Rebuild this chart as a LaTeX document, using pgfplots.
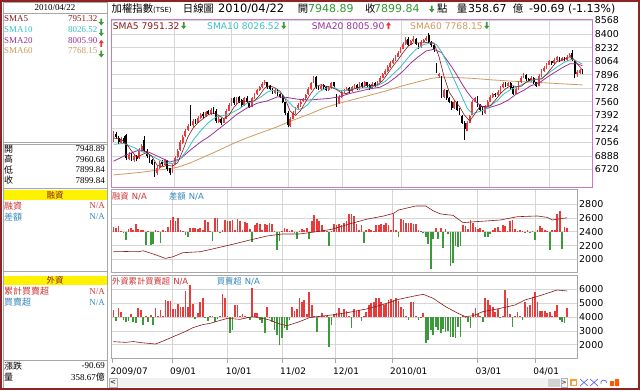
\documentclass[border=0pt]{standalone}
\usepackage{pgfplots}
\usepackage{pgfplotstable}
\pgfplotsset{compat=1.18}
\usepackage{fontspec}
\setmainfont{DejaVu Sans}
\newfontfamily\cjk{Noto Sans CJK TC}
\newfontfamily\ser{Liberation Serif}
\definecolor{cA}{HTML}{8B1A1A}
\definecolor{cB}{HTML}{3CC0C8}
\definecolor{cC}{HTML}{993399}
\definecolor{cD}{HTML}{D09A60}
\definecolor{upr}{HTML}{E83C3C}
\definecolor{dng}{HTML}{3A9A3A}
\definecolor{gridc}{HTML}{D6D6D6}
\definecolor{pinkb}{HTML}{CC77CC}
\definecolor{wframe}{HTML}{8E2323}
\definecolor{lblr}{HTML}{CC3333}
\definecolor{lblb}{HTML}{3388BB}
\definecolor{ttlg}{HTML}{339933}
\definecolor{panelgray}{HTML}{A8A8A8}
\newcommand{\fs}[1]{\fontsize{#1}{#1}\selectfont}
\newcommand{\dn}{\tikz[baseline=0bp,x=1bp,y=1bp]\fill[dng] (-0.9,7) -- (0.9,7) -- (0.9,3.3) -- (2.6,3.3) -- (0,0) -- (-2.6,3.3) -- (-0.9,3.3) -- cycle;}
\newcommand{\upa}{\tikz[baseline=0bp,x=1bp,y=1bp]\fill[upr] (-0.9,0) -- (0.9,0) -- (0.9,3.7) -- (2.6,3.7) -- (0,7) -- (-2.6,3.7) -- (-0.9,3.7) -- cycle;}
\pgfplotsset{
  base/.style={scale only axis, anchor=south west, xmin=-1, xmax=187,
    axis line style={panelgray, line width=0.6bp},
    xtick={23.6,45.8,68,89.4,112.4,146.8,170.1}, xticklabels={},
    major tick length=0pt,
    xmajorgrids, ymajorgrids, grid style={gridc, line width=0.5bp},
    yticklabel pos=right,
    yticklabel style={anchor=west, inner sep=0pt, xshift=2bp, font=\fs{9.5}, text=black},
  },
}
\begin{document}
\pgfplotstableread{
i O H L C
0 7080 7190 7060 7150
1 7160 7180 7100 7120
2 7110 7130 7040 7060
3 7050 7120 7040 7100
4 7110 7130 7030 7050
5 7140 7160 6840 6860
6 6850 6930 6830 6900
7 6910 6920 6820 6840
8 6840 6900 6810 6880
9 6890 6900 6820 6850
10 6860 6980 6850 6960
11 6950 7030 6930 7010
12 7080 7130 6930 6950
13 6950 6970 6860 6880
14 6870 6900 6800 6820
15 6830 6850 6770 6790
16 6800 6810 6630 6660
17 6670 6760 6650 6740
18 6730 6820 6720 6800
19 6810 6830 6760 6780
20 6770 6850 6760 6830
21 6820 6830 6700 6720
22 6730 6740 6650 6680
23 6690 6800 6680 6780
24 6790 6880 6780 6860
25 6870 6970 6860 6950
26 6960 7080 6950 7060
27 7050 7140 7040 7120
28 7130 7220 7120 7200
29 7210 7280 7190 7260
30 7500 7520 7260 7280
31 7270 7340 7250 7320
32 7330 7350 7280 7300
33 7300 7380 7290 7360
34 7360 7420 7350 7400
35 7410 7430 7360 7380
36 7380 7450 7370 7430
37 7440 7460 7390 7410
38 7410 7480 7400 7460
39 7470 7490 7410 7430
40 7450 7470 7300 7320
41 7310 7370 7300 7350
42 7350 7360 7270 7300
43 7300 7360 7290 7340
44 7350 7470 7340 7450
45 7450 7540 7440 7520
46 7520 7600 7510 7580
47 7600 7620 7520 7540
48 7540 7620 7530 7600
49 7620 7630 7540 7560
50 7580 7590 7500 7520
51 7520 7620 7510 7600
52 7610 7630 7540 7560
53 7560 7570 7480 7500
54 7500 7620 7490 7600
55 7600 7670 7590 7650
56 7650 7720 7640 7700
57 7700 7760 7690 7740
58 7740 7800 7730 7780
59 7790 7830 7770 7800
60 7800 7810 7720 7740
61 7750 7770 7700 7720
62 7720 7730 7660 7680
63 7670 7720 7660 7700
64 7710 7720 7630 7650
65 7650 7670 7600 7620
66 7620 7640 7540 7560
67 7550 7560 7400 7420
68 7420 7440 7240 7270
69 7260 7370 7250 7350
70 7350 7440 7340 7420
71 7420 7490 7410 7470
72 7480 7540 7470 7520
73 7530 7580 7500 7560
74 7570 7610 7550 7590
75 7600 7660 7580 7640
76 7650 7740 7640 7720
77 7720 7810 7710 7790
78 7800 7880 7790 7860
79 7870 7885 7720 7740
80 7740 7760 7700 7720
81 7720 7780 7710 7760
82 7770 7780 7720 7740
83 7740 7750 7690 7700
84 7700 7750 7690 7730
85 7730 7810 7720 7790
86 7800 7810 7740 7760
87 7650 7660 7500 7540
88 7540 7640 7530 7620
89 7620 7700 7610 7680
90 7690 7720 7670 7700
91 7700 7740 7690 7720
92 7730 7740 7670 7690
93 7690 7760 7680 7740
94 7740 7780 7730 7760
95 7770 7780 7700 7720
96 7720 7800 7710 7780
97 7790 7800 7730 7750
98 7750 7820 7740 7800
99 7800 7810 7740 7760
100 7770 7780 7710 7730
101 7730 7800 7720 7780
102 7790 7800 7740 7760
103 7760 7820 7750 7800
104 7800 7880 7790 7860
105 7860 7920 7850 7900
106 7900 7960 7890 7940
107 7940 8010 7930 7990
108 7990 8060 7980 8040
109 8040 8100 8030 8080
110 8080 8140 8070 8120
111 8120 8190 8110 8170
112 8170 8240 8160 8220
113 8220 8300 8210 8280
114 8280 8360 8270 8320
115 8340 8360 8250 8270
116 8270 8330 8260 8310
117 8310 8370 8300 8340
118 8340 8350 8260 8280
119 8280 8290 8220 8240
120 8240 8320 8230 8300
121 8300 8340 8290 8320
122 8320 8370 8310 8350
123 8390 8410 8280 8300
124 8300 8310 8240 8260
125 8260 8270 8180 8200
126 8030 8040 7920 7940
127 7880 7920 7860 7900
128 7860 7880 7600 7620
129 7620 7720 7600 7700
130 7700 7710 7580 7600
131 7600 7620 7540 7560
132 7560 7570 7460 7480
133 7480 7580 7470 7560
134 7560 7570 7440 7460
135 7470 7480 7400 7420
136 7380 7390 7280 7300
137 7300 7320 7085 7220
138 7200 7320 7190 7300
139 7300 7400 7290 7380
140 7400 7580 7390 7560
141 7560 7620 7550 7600
142 7620 7630 7500 7520
143 7520 7530 7440 7460
144 7480 7490 7400 7420
145 7420 7520 7410 7500
146 7500 7580 7490 7560
147 7560 7640 7550 7620
148 7620 7670 7610 7650
149 7660 7670 7620 7640
150 7640 7700 7630 7680
151 7680 7760 7670 7740
152 7740 7800 7730 7780
153 7790 7800 7740 7760
154 7760 7810 7750 7790
155 7790 7800 7710 7730
156 7740 7750 7640 7660
157 7660 7740 7650 7720
158 7720 7820 7710 7800
159 7800 7880 7790 7860
160 7860 7910 7850 7880
161 7890 7900 7820 7840
162 7840 7860 7800 7820
163 7820 7880 7810 7860
164 7860 7870 7780 7800
165 7800 7810 7740 7760
166 7760 7900 7750 7880
167 7880 7960 7870 7940
168 7940 8000 7930 7980
169 7980 8040 7970 8020
170 8020 8080 8010 8060
171 8060 8070 8020 8040
172 8040 8100 8030 8080
173 8080 8130 8070 8110
174 8110 8120 8050 8070
175 8070 8120 8060 8100
176 8100 8110 8060 8080
177 8080 8140 8070 8120
178 8120 8160 8110 8140
179 8170 8200 8060 8080
180 8060 8070 7850 7900
181 7900 7950 7870 7930
182 7920 7960 7900 7948
183 7948.89 7960.68 7899.84 7899.84
}\candles
\pgfplotstableread[row sep=\\]{
i d\\ 0 70\\ 1 60\\ 2 75\\ 3 10\\ 4 -20\\ 5 -120\\ 6 40\\ 7 50\\ 8 30\\ 9 110\\
10 40\\ 11 30\\ 12 20\\ 13 -190\\ 14 10\\ 15 -190\\ 16 -170\\ 17 20\\ 18 10\\ 19 -160\\
20 30\\ 21 15\\ 22 70\\ 23 170\\ 24 210\\ 25 160\\ 26 190\\ 27 30\\ 28 10\\ 29 -50\\
30 -80\\ 31 50\\ 32 60\\ 33 60\\ 34 40\\ 35 60\\ 36 20\\ 37 170\\ 38 140\\ 39 10\\
40 -130\\ 41 190\\ 42 190\\ 43 -10\\ 44 20\\ 45 170\\ 46 160\\ 47 150\\ 48 170\\ 49 20\\
50 180\\ 51 150\\ 52 30\\ 53 140\\ 54 120\\ 55 40\\ 56 -150\\ 57 100\\ 58 120\\ 59 110\\
60 20\\ 61 110\\ 62 100\\ 63 120\\ 64 110\\ 65 10\\ 66 -270\\ 67 -130\\ 68 15\\ 69 50\\
70 40\\ 71 10\\ 72 20\\ 73 -10\\ 74 -100\\ 75 10\\ 76 40\\ 77 30\\ 78 50\\ 79 -100\\
80 160\\ 81 240\\ 82 180\\ 83 150\\ 84 100\\ 85 20\\ 86 10\\ 87 -210\\ 88 10\\ 89 110\\
90 100\\ 91 110\\ 92 100\\ 93 120\\ 94 150\\ 95 260\\ 96 250\\ 97 220\\ 98 110\\ 99 30\\
100 100\\ 101 -160\\ 102 30\\ 103 40\\ 104 20\\ 105 10\\ 106 90\\ 107 100\\ 108 110\\ 109 100\\
110 120\\ 111 100\\ 112 30\\ 113 260\\ 114 20\\ 115 -70\\ 116 180\\ 117 170\\ 118 130\\ 119 120\\
120 120\\ 121 110\\ 122 110\\ 123 20\\ 124 10\\ 125 -10\\ 126 -70\\ 127 -170\\ 128 -530\\ 129 -110\\
130 60\\ 131 -100\\ 132 60\\ 133 -230\\ 134 40\\ 135 -30\\ 136 -500\\ 137 -450\\ 138 -210\\ 139 -220\\
140 -200\\ 141 100\\ 142 80\\ 143 40\\ 144 170\\ 145 120\\ 146 70\\ 147 40\\ 148 60\\ 149 20\\
150 -70\\ 151 -70\\ 152 -40\\ 153 30\\ 154 60\\ 155 70\\ 156 10\\ 157 90\\ 158 80\\ 159 10\\
160 150\\ 161 170\\ 162 40\\ 163 10\\ 164 20\\ 165 10\\ 166 -10\\ 167 20\\ 168 -20\\ 169 10\\
170 -120\\ 171 20\\ 172 80\\ 173 60\\ 174 20\\ 175 10\\ 176 -260\\ 177 30\\ 178 30\\ 179 260\\
180 300\\ 181 -250\\ 182 70\\ 183 50\\
}\mbars
\pgfplotstableread[row sep=\\]{
i d\\ 0 500\\ 1 -290\\ 2 670\\ 3 380\\ 4 -220\\ 5 -380\\ 6 -300\\ 7 190\\ 8 -380\\ 9 -460\\
10 620\\ 11 500\\ 12 -580\\ 13 50\\ 14 -385\\ 15 150\\ 16 -580\\ 17 670\\ 18 100\\ 19 500\\
20 60\\ 21 1230\\ 22 1150\\ 23 1150\\ 24 580\\ 25 580\\ 26 910\\ 27 750\\ 28 750\\ 29 1880\\
30 745\\ 31 2310\\ 32 910\\ 33 -120\\ 34 300\\ 35 1100\\ 36 1350\\ 37 -100\\ 38 -300\\ 39 60\\
40 100\\ 41 -380\\ 42 -150\\ 43 60\\ 44 1660\\ 45 1350\\ 46 40\\ 47 -1180\\ 48 -940\\ 49 900\\
50 900\\ 51 80\\ 52 190\\ 53 40\\ 54 -80\\ 55 -200\\ 56 2070\\ 57 260\\ 58 260\\ 59 -220\\
60 -450\\ 61 -1180\\ 62 700\\ 63 30\\ 64 -340\\ 65 -940\\ 66 -1300\\ 67 -2020\\ 68 -1500\\ 69 -820\\
70 -940\\ 71 -220\\ 72 700\\ 73 430\\ 74 600\\ 75 1350\\ 76 1110\\ 77 1230\\ 78 200\\ 79 1830\\
80 870\\ 81 100\\ 82 -1060\\ 83 50\\ 84 264\\ 85 100\\ 86 60\\ 87 -2140\\ 88 -580\\ 89 190\\
90 300\\ 91 625\\ 92 200\\ 93 577\\ 94 430\\ 95 100\\ 96 -820\\ 97 577\\ 98 430\\ 99 500\\
100 -290\\ 101 60\\ 102 384\\ 103 866\\ 104 1000\\ 105 1100\\ 106 1347\\ 107 1347\\ 108 1106\\ 109 866\\
110 910\\ 111 1227\\ 112 1300\\ 113 1200\\ 114 1347\\ 115 1150\\ 116 745\\ 117 577\\ 118 100\\ 119 -217\\
120 1106\\ 121 1106\\ 122 60\\ 123 -217\\ 124 30\\ 125 264\\ 126 -1902\\ 127 -1662\\ 128 -950\\ 129 -1300\\
130 -700\\ 131 -940\\ 132 -1180\\ 133 -900\\ 134 -1100\\ 135 -1000\\ 136 -1420\\ 137 -1420\\ 138 -1493\\ 139 -699\\
140 -1420\\ 141 60\\ 142 30\\ 143 -338\\ 144 -820\\ 145 264\\ 146 625\\ 147 192\\ 148 60\\ 149 -338\\
150 1347\\ 151 1227\\ 152 866\\ 153 745\\ 154 384\\ 155 577\\ 156 -97\\ 157 40\\ 158 1949\\ 159 1347\\
160 200\\ 161 -699\\ 162 60\\ 163 384\\ 164 100\\ 165 -217\\ 166 1106\\ 167 745\\ 168 866\\ 169 1467\\
170 1780\\ 171 1050\\ 172 432\\ 173 432\\ 174 400\\ 175 300\\ 176 384\\ 177 100\\ 178 432\\ 179 866\\
180 -217\\ 181 -338\\ 182 -458\\ 183 625\\
}\fbars
\begin{tikzpicture}[x=1bp,y=1bp]
\fill[white] (0,0) rectangle (640,390);
% ---------- main price panel ----------
\begin{axis}[base, at={(111bp,203bp)}, width=481.7bp, height=168bp, ymin=6500, ymax=8587,
  axis line style={pinkb, line width=0.9bp},
  ytick={6720,6888,7056,7224,7392,7560,7728,7896,8064,8232,8400,8568},
  yticklabels={6720,6888,7056,7224,7392,7560,7728,7896,8064,8232,8400,8568},
  colormap={ud}{color(0cm)=(black) color(1cm)=(upr)}, point meta min=0, point meta max=1]
\addplot[cD, line width=0.8bp] coordinates {(0,6650) (10,6680) (20,6720) (25,6745) (30,6800) (35,6870) (40,6940) (46,7030) (52,7110) (58,7180) (64,7250) (70,7330) (76,7400) (82,7480) (88,7540) (94,7590) (100,7640) (106,7690) (112,7750) (118,7800) (124,7850) (128,7865) (134,7860) (140,7850) (148,7830) (158,7810) (168,7795) (176,7780) (183,7768)};
\addplot[quiver={u=0,v=\thisrow{H}-\thisrow{L},colored=mapped color}, point meta={\thisrow{C}>\thisrow{O}}, line width=0.6bp] table[x=i,y=L]{\candles};
\addplot[quiver={u=0,v=\thisrow{C}-\thisrow{O},colored=mapped color}, point meta={\thisrow{C}>\thisrow{O}}, line width=1.8bp] table[x=i,y=O]{\candles};
\addplot[cC, line width=0.8bp] coordinates {(0,6820) (5,6900) (10,6960) (14,6930) (18,6870) (22,6810) (26,6850) (30,6960) (34,7060) (37,7120) (41,7220) (45,7320) (48,7400) (52,7480) (56,7540) (60,7570) (64,7620) (68,7610) (72,7590) (76,7580) (80,7590) (84,7600) (88,7620) (92,7660) (96,7690) (100,7720) (104,7740) (107,7790) (110,7860) (113,7940) (116,8040) (119,8120) (122,8190) (125,8210) (128,8170) (130,8080) (132,7990) (134,7890) (136,7780) (138,7680) (140,7600) (142,7540) (144,7500) (146,7480) (148,7500) (151,7530) (154,7580) (157,7650) (160,7700) (163,7760) (166,7790) (169,7860) (172,7920) (175,7980) (178,8030) (181,8030) (183,8005.9)};
\addplot[cB, line width=0.8bp] coordinates {(0,7030) (4,7040) (8,6990) (11,6940) (14,6900) (17,6850) (20,6800) (23,6790) (26,6850) (29,6970) (31,7080) (34,7200) (37,7300) (40,7370) (43,7390) (46,7420) (49,7470) (52,7540) (55,7570) (58,7630) (60,7680) (62,7700) (64,7690) (66,7650) (68,7570) (70,7500) (72,7460) (74,7480) (76,7530) (78,7610) (80,7680) (83,7730) (86,7740) (88,7700) (91,7700) (94,7720) (97,7730) (100,7740) (103,7760) (106,7810) (109,7900) (112,7990) (115,8110) (118,8210) (121,8270) (124,8290) (126,8270) (128,8180) (130,8050) (132,7900) (134,7760) (136,7620) (138,7480) (140,7410) (142,7430) (144,7450) (146,7480) (148,7530) (150,7580) (152,7650) (155,7710) (158,7750) (161,7800) (164,7830) (167,7850) (170,7920) (173,7990) (176,8050) (179,8090) (181,8060) (183,8026.5)};
\addplot[cA, line width=0.6bp] coordinates {(0,7110) (3,7090) (5,7038) (7,6950) (9,6870) (11,6900) (13,6930) (15,6880) (17,6770) (19,6750) (21,6770) (23,6760) (25,6800) (27,6950) (29,7120) (31,7230) (33,7300) (35,7350) (37,7400) (39,7420) (41,7390) (43,7350) (45,7390) (47,7490) (49,7560) (51,7560) (53,7560) (55,7570) (57,7640) (59,7730) (61,7760) (63,7730) (65,7690) (67,7590) (69,7440) (71,7390) (73,7450) (75,7560) (77,7660) (79,7750) (81,7770) (83,7750) (85,7740) (87,7710) (89,7670) (91,7660) (93,7710) (95,7730) (97,7750) (99,7760) (101,7760) (103,7770) (105,7820) (107,7910) (109,8000) (111,8080) (113,8170) (115,8250) (117,8290) (119,8290) (121,8290) (123,8300) (125,8290) (127,8120) (129,7870) (131,7680) (133,7580) (135,7500) (137,7390) (139,7320) (141,7410) (143,7500) (145,7500) (147,7510) (149,7580) (151,7660) (153,7720) (155,7760) (157,7750) (159,7750) (161,7800) (163,7840) (165,7840) (167,7840) (169,7900) (171,7980) (173,8060) (175,8080) (177,8100) (179,8110) (181,8030) (183,7951.3)};
\end{axis}
% ---------- margin panel ----------
\begin{axis}[base, at={(111bp,117.7bp)}, width=466bp, height=83.3bp, ymin=1816, ymax=3014,
  ytick={2000,2200,2400,2600,2800}, yticklabels={2000,2200,2400,2600,2800},
  colormap={rg}{color(0cm)=(dng) color(1cm)=(upr)}, point meta min=0, point meta max=1]
\addplot[quiver={u=0,v=\thisrow{d},colored=mapped color}, point meta={\thisrow{d}>0}, line width=1.7bp] table[x=i,y expr=2400]{\mbars};
\addplot[cA, line width=0.6bp] coordinates {(0,2112) (5,2115) (10,2112) (12,2126) (16,2080) (21,2016) (24,2040) (28,2098) (35,2112) (41,2160) (48,2218) (55,2280) (62,2338) (68,2367) (75,2367) (82,2400) (88,2434) (95,2510) (102,2578) (109,2626) (113,2664) (115,2712) (122,2770) (126,2770) (129,2700) (132,2655) (137,2635) (141,2530) (146,2544) (156,2568) (163,2616) (171,2626) (175,2606) (177,2568) (179,2580) (183,2600)};
\end{axis}
% ---------- foreign panel ----------
\begin{axis}[base, at={(111bp,31.7bp)}, width=466bp, height=83.3bp, ymin=1018, ymax=7032,
  ytick={2000,3000,4000,5000,6000}, yticklabels={2000,3000,4000,5000,6000},
  colormap={rg}{color(0cm)=(dng) color(1cm)=(upr)}, point meta min=0, point meta max=1]
\addplot[quiver={u=0,v=\thisrow{d},colored=mapped color}, point meta={\thisrow{d}>0}, line width=1.7bp] table[x=i,y expr=4000]{\fbars};
\addplot[cA, line width=0.6bp] coordinates {(0,2218) (5,2170) (8,2230) (11,2150) (14,2100) (17,2050) (21,2338) (25,2651) (29,2950) (32,3229) (36,3450) (39,3542) (42,3700) (46,3903) (51,3831) (56,4023) (60,3900) (63,3783) (67,3500) (70,3373) (75,3662) (79,3950) (82,4023) (88,4143) (95,4336) (102,4577) (109,4914) (115,5275) (122,5540) (125,5636) (129,5347) (134,4745) (139,4264) (142,4023) (145,4095) (149,4384) (156,4625) (162,4866) (166,5227) (172,5540) (179,5949) (183,5877)};
\end{axis}
% ---------- date ticks and labels ----------
\foreach \px/\lab in {112.3/2009\slash 07,172/09\slash 01,227.6/10\slash 01,282/11\slash 02,335/12\slash 01,392/2010\slash 01,477.4/03\slash 01,535.1/04\slash 01}{
  \draw[panelgray, line width=0.6bp] (\px,31.7) -- (\px,27.5);
  \node[anchor=west, inner sep=0pt, font=\fs{9}] at (\px-2,18) {\lab};
}
% ---------- title ----------
\node[anchor=base west, inner sep=0pt] at (111.5,377.5) {{\cjk\fs{10.4}加權指數}{\fs{7}(TSE)}};
\node[anchor=base west, inner sep=0pt] at (182.7,377.5) {\cjk\fs{10.4}日線圖};
\node[anchor=base west, inner sep=0pt] at (218,377.5) {\fs{11.5}2010/04/22};
\node[anchor=base west, inner sep=0pt] at (297.7,377.5) {\cjk\fs{10.4}開};
\node[anchor=base west, inner sep=0pt, text=ttlg] at (308,377.5) {\fs{11}7948.89};
\node[anchor=base west, inner sep=0pt] at (365,377.5) {\cjk\fs{10.4}收};
\node[anchor=base west, inner sep=0pt, text=ttlg] at (374,377.5) {\fs{11}7899.84};
\node[anchor=base west, inner sep=0pt] at (429,377.5) {\dn};
\node[anchor=base west, inner sep=0pt] at (437,377.5) {\cjk\fs{10.4}點};
\node[anchor=base west, inner sep=0pt] at (456.7,377.5) {\cjk\fs{10.4}量};
\node[anchor=base west, inner sep=0pt] at (468,377.5) {\fs{11}358.67};
\node[anchor=base west, inner sep=0pt] at (512.7,377.5) {\cjk\fs{10.4}億};
\node[anchor=base west, inner sep=0pt] at (529,377.5) {\fs{11}-90.69 (-1.13\%)};
% ---------- legend inside main ----------
\node[anchor=west, inner sep=0pt, text=cA] at (112.7,364.3) {\fs{9.2}SMA5 7951.32\,\dn};
\node[anchor=west, inner sep=0pt, text=cB] at (207,364.3) {\fs{9.2}SMA10 8026.52\,\dn};
\node[anchor=west, inner sep=0pt, text=cC] at (311.7,364.3) {\fs{9.2}SMA20 8005.90\,\upa};
\node[anchor=west, inner sep=0pt, text=cD] at (410,364.3) {\fs{9.2}SMA60 7768.15\,\dn};
% ---------- lower panel labels ----------
\node[anchor=west, inner sep=0pt, text=lblr] at (112,194) {{\cjk\fs{8.3}融資} {\fs{8.5}N/A}};
\node[anchor=west, inner sep=0pt, text=lblb] at (169,194) {{\cjk\fs{8.3}差額} {\fs{8.5}N/A}};
\node[anchor=west, inner sep=0pt, text=lblr] at (112,109) {{\cjk\fs{8.3}外資累計買賣超} {\fs{8.5}N/A}};
\node[anchor=west, inner sep=0pt, text=lblb] at (216.7,109) {{\cjk\fs{8.3}買賣超} {\fs{8.5}N/A}};
% ---------- left info panel ----------
\draw[panelgray, line width=0.6bp] (3,2) rectangle (107.5,388);
\draw[panelgray, line width=0.6bp] (3,377) -- (107.5,377);
\draw[panelgray, line width=0.6bp] (3,247.5) -- (107.5,247.5) (3,246) -- (107.5,246);
\draw[panelgray, line width=0.6bp] (3,202) -- (107.5,202);
\draw[panelgray, line width=0.6bp] (3,118.5) -- (107.5,118.5);
\draw[panelgray, line width=0.6bp] (3,30) -- (107.5,30);
\node[inner sep=0pt, font=\ser\fs{9}] at (55,382) {2010/04/22};
\node[anchor=west, inner sep=0pt, text=cA, font=\ser\fs{9}] at (4,371) {SMA5};
\node[anchor=east, inner sep=0pt, text=cA, font=\ser\fs{9}] at (97.5,371) {7951.32};
\node[anchor=west, inner sep=0pt] at (98.5,368) {\dn};
\node[anchor=west, inner sep=0pt, text=cB, font=\ser\fs{9}] at (4,360.3) {SMA10};
\node[anchor=east, inner sep=0pt, text=cB, font=\ser\fs{9}] at (97.5,360.3) {8026.52};
\node[anchor=west, inner sep=0pt] at (98.5,357.3) {\dn};
\node[anchor=west, inner sep=0pt, text=cC, font=\ser\fs{9}] at (4,349.7) {SMA20};
\node[anchor=east, inner sep=0pt, text=cC, font=\ser\fs{9}] at (97.5,349.7) {8005.90};
\node[anchor=west, inner sep=0pt] at (98.5,346.7) {\upa};
\node[anchor=west, inner sep=0pt, text=cD, font=\ser\fs{9}] at (4,339) {SMA60};
\node[anchor=east, inner sep=0pt, text=cD, font=\ser\fs{9}] at (97.5,339) {7768.15};
\node[anchor=west, inner sep=0pt] at (98.5,336) {\dn};
\foreach \y/\k/\v in {241/開/7948.89,230.5/高/7960.68,220/低/7899.84,209.5/收/7899.84}{
  \node[anchor=west, inner sep=0pt, font=\cjk\fs{9}] at (4,\y) {\k};
  \node[anchor=east, inner sep=0pt, font=\ser\fs{9}] at (105,\y) {\v};
}
\fill[yellow] (3.5,190.5) rectangle (107,200);
\node[inner sep=0pt, font=\cjk\fs{8.5}, text=cA] at (55,195.2) {融資};
\node[anchor=west, inner sep=0pt, font=\cjk\fs{9}, text=lblr] at (4,184) {融資};
\node[anchor=east, inner sep=0pt, font=\ser\fs{9}, text=lblr] at (105,184) {N/A};
\node[anchor=west, inner sep=0pt, font=\cjk\fs{9}, text=lblb] at (4,173.3) {差額};
\node[anchor=east, inner sep=0pt, font=\ser\fs{9}, text=lblb] at (105,173.3) {N/A};
\fill[yellow] (3.5,105) rectangle (107,114.5);
\node[inner sep=0pt, font=\cjk\fs{8.5}, text=cA] at (55,109.7) {外資};
\node[anchor=west, inner sep=0pt, font=\cjk\fs{9}, text=lblr] at (4,98.7) {累計買賣超};
\node[anchor=east, inner sep=0pt, font=\ser\fs{9}, text=lblr] at (105,98.7) {N/A};
\node[anchor=west, inner sep=0pt, font=\cjk\fs{9}, text=lblb] at (4,87.7) {買賣超};
\node[anchor=east, inner sep=0pt, font=\ser\fs{9}, text=lblb] at (105,87.7) {N/A};
\node[anchor=west, inner sep=0pt, font=\cjk\fs{9}] at (4,24.3) {漲跌};
\node[anchor=east, inner sep=0pt, font=\ser\fs{9}] at (105,24.3) {-90.69};
\node[anchor=west, inner sep=0pt, font=\cjk\fs{9}] at (4,13.3) {量};
\node[anchor=east, inner sep=0pt] at (105,13.3) {{\ser\fs{9}358.67}{\cjk\fs{9}億}};
% ---------- scrollbar ----------
\fill[gray!10] (109,3) rectangle (566,12);
\draw[gray!60, line width=0.5bp] (109,3) rectangle (117,12);
\node[inner sep=0pt, font=\fs{7}] at (113,7.5) {<};
\fill[gray!35] (548,3.5) rectangle (560,11.5);
\draw[gray!60, line width=0.5bp] (561,3) rectangle (567,12);
\node[inner sep=0pt, font=\fs{6}] at (564,7.5) {>};
\fill[orange!80] (570,4) rectangle (577,11);
\fill[white] (571.5,5.5) rectangle (575.5,9.5);
\draw[blue!60, line width=0.7bp] (580,4) -- (588,11) (580,11) -- (588,4) (590,4) -- (598,11) (590,11) -- (598,4);
\draw[blue!60, line width=0.8bp] (601,6) arc (200:0:3);
\fill[orange!70!red] (610,4) rectangle (614,9) (615,4) rectangle (619,11);
% ---------- window frame ----------
\draw[wframe, line width=1.6bp] (0.8,0.8) rectangle (639.2,389.2);
\pgfresetboundingbox
\useasboundingbox (0,0) rectangle (640,390);
\end{tikzpicture}
\end{document}
